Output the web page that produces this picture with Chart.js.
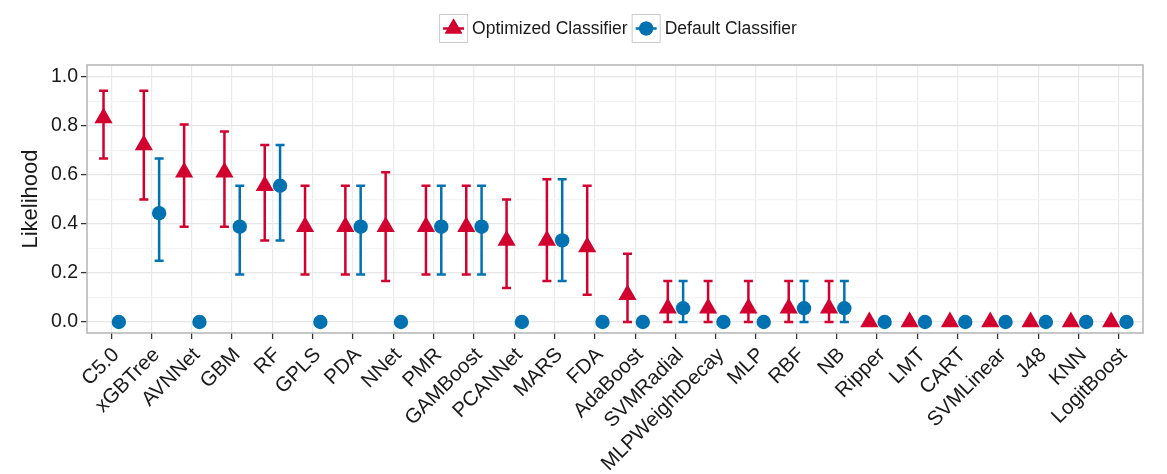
<!DOCTYPE html>
<html>
<head>
<meta charset="utf-8">
<script src="https://cdn.jsdelivr.net/npm/chart.js@4.4.0/dist/chart.umd.min.js"></script>
<style>
  html, body { margin: 0; padding: 0; background: #fff; }
  #wrap { width: 1167px; height: 474px; }
</style>
</head>
<body>
<div id="wrap"><canvas id="chart" width="1167" height="474"></canvas></div>
<script>
// data
const categories = ['C5.0', 'xGBTree', 'AVNNet', 'GBM', 'RF', 'GPLS', 'PDA', 'NNet', 'PMR',
  'GAMBoost', 'PCANNet', 'MARS', 'FDA', 'AdaBoost', 'SVMRadial', 'MLPWeightDecay', 'MLP',
  'RBF', 'NB', 'Ripper', 'LMT', 'CART', 'SVMLinear', 'J48', 'KNN', 'LogitBoost'];

const optimized     = [0.833, 0.722, 0.611, 0.611, 0.556, 0.389, 0.389, 0.389, 0.389, 0.389, 0.333, 0.333, 0.306,
  0.111, 0.056, 0.056, 0.056, 0.056, 0.056, 0, 0, 0, 0, 0, 0, 0];
const optimizedLow  = [0.667, 0.500, 0.389, 0.389, 0.333, 0.194, 0.194, 0.167, 0.194, 0.194, 0.139, 0.167, 0.111,
  0, 0, 0, 0, 0, 0, 0, 0, 0, 0, 0, 0, 0];
const optimizedHigh = [0.944, 0.944, 0.806, 0.778, 0.722, 0.556, 0.556, 0.611, 0.556, 0.556, 0.500, 0.583, 0.556,
  0.278, 0.167, 0.167, 0.167, 0.167, 0.167, 0, 0, 0, 0, 0, 0, 0];

const defaults      = [0, 0.444, 0, 0.389, 0.556, 0, 0.389, 0, 0.389, 0.389, 0, 0.333, 0,
  0, 0.056, 0, 0, 0.056, 0.056, 0, 0, 0, 0, 0, 0, 0];
const defaultLow    = [0, 0.250, 0, 0.194, 0.333, 0, 0.194, 0, 0.194, 0.194, 0, 0.167, 0,
  0, 0, 0, 0, 0, 0, 0, 0, 0, 0, 0, 0, 0];
const defaultHigh   = [0, 0.667, 0, 0.556, 0.722, 0, 0.556, 0, 0.556, 0.556, 0, 0.583, 0,
  0, 0.167, 0, 0, 0.167, 0.167, 0, 0, 0, 0, 0, 0, 0];

const yTicks = [0, 0.2, 0.4, 0.6, 0.8, 1.0];
const yMinorTicks = [0.1, 0.3, 0.5, 0.7, 0.9];

const RED = '#d1002f';
const BLUE = '#0072b2';
const DODGE = 0.19;
const CAP = 4.5;
const FONT = '"Liberation Sans", Arial, Helvetica, sans-serif';

// error bars go under the points
const errorBars = {
  id: 'errorBars',
  beforeDatasetsDraw(chart) {
    const { ctx, scales: { x, y } } = chart;
    ctx.save();
    ctx.lineWidth = 2.5;
    [[optimizedLow, optimizedHigh, -DODGE, RED], [defaultLow, defaultHigh, DODGE, BLUE]].forEach(([lo, hi, off, col]) => {
      ctx.strokeStyle = col;
      categories.forEach((c, i) => {
        if (lo[i] === hi[i]) return;
        const px = x.getPixelForValue(i + off);
        const y0 = y.getPixelForValue(lo[i]);
        const y1 = y.getPixelForValue(hi[i]);
        ctx.beginPath();
        ctx.moveTo(px, y0); ctx.lineTo(px, y1);
        ctx.moveTo(px - CAP, y0); ctx.lineTo(px + CAP, y0);
        ctx.moveTo(px - CAP, y1); ctx.lineTo(px + CAP, y1);
        ctx.stroke();
      });
    });
    ctx.restore();
  }
};

// panel border + legend on top
const frame = {
  id: 'frame',
  afterDraw(chart) {
    const { ctx, chartArea: a } = chart;
    ctx.save();
    ctx.strokeStyle = '#b8b8b8';
    ctx.lineWidth = 1.6;
    ctx.strokeRect(a.left, a.top, a.right - a.left, a.bottom - a.top);

    const items = [
      { label: 'Optimized Classifier', color: RED, style: 'triangle', r: 10 },
      { label: 'Default Classifier', color: BLUE, style: 'circle', r: 7 }
    ];
    const key = 29, gap = 4;
    ctx.font = '17.5px ' + FONT;
    const widths = items.map(it => ctx.measureText(it.label).width);
    const total = items.reduce((s, it, i) => s + key + gap + widths[i], 0) + gap;
    let x = 618 - total / 2;
    const top = 14;
    items.forEach((it, i) => {
      ctx.fillStyle = '#fff';
      ctx.fillRect(x, top, key, key);
      ctx.strokeStyle = '#cccccc';
      ctx.lineWidth = 1;
      ctx.strokeRect(x + 0.5, top + 0.5, key - 1, key - 1);
      ctx.strokeStyle = it.color;
      ctx.lineWidth = 2.5;
      ctx.beginPath();
      ctx.moveTo(x + 4, top + key / 2);
      ctx.lineTo(x + key - 4, top + key / 2);
      ctx.stroke();
      ctx.fillStyle = it.color;
      Chart.helpers.drawPoint(ctx, { pointStyle: it.style, radius: it.r, rotation: 0, borderWidth: 0 }, x + key / 2, top + key / 2);
      ctx.fill();
      ctx.fillStyle = '#1a1a1a';
      ctx.textBaseline = 'middle';
      ctx.textAlign = 'left';
      ctx.fillText(it.label, x + key + gap, top + key / 2 + 1);
      x += key + gap + widths[i] + gap;
    });
    ctx.restore();
  }
};

new Chart(document.getElementById('chart'), {
  type: 'scatter',
  data: {
    datasets: [
      {
        label: 'Optimized Classifier',
        data: categories.map((c, i) => ({ x: i - DODGE, y: optimized[i] })),
        pointStyle: 'triangle',
        pointRadius: 10.5,
        pointHoverRadius: 10.5,
        backgroundColor: RED,
        borderWidth: 0
      },
      {
        label: 'Default Classifier',
        data: categories.map((c, i) => ({ x: i + DODGE, y: defaults[i] })),
        pointStyle: 'circle',
        pointRadius: 7.2,
        pointHoverRadius: 7.2,
        backgroundColor: BLUE,
        borderWidth: 0
      }
    ]
  },
  options: {
    responsive: false,
    animation: false,
    devicePixelRatio: 1,
    layout: { padding: { top: 65, right: 24, left: 0, bottom: 0 } },
    plugins: {
      legend: { display: false },
      tooltip: { enabled: false }
    },
    scales: {
      x: {
        type: 'linear',
        min: -0.6,
        max: categories.length - 0.4,
        afterBuildTicks: (scale) => { scale.ticks = categories.map((c, i) => ({ value: i })); },
        afterFit: (scale) => { scale.height = 141; },
        border: { display: false },
        grid: { color: '#ebebeb', lineWidth: 1.2, tickLength: 6, tickColor: '#333', tickWidth: 1.3 },
        ticks: {
          autoSkip: false,
          minRotation: 45,
          maxRotation: 45,
          padding: 4,
          labelOffset: 5,
          color: '#1a1a1a',
          font: { family: FONT, size: 20.5 },
          callback: (v) => categories[v]
        }
      },
      y: {
        min: -0.045,
        max: 1.049,
        afterBuildTicks: (scale) => {
          scale.ticks = yTicks.concat(yMinorTicks).sort((a, b) => a - b).map(v => ({ value: v }));
        },
        afterFit: (scale) => { scale.width = 87; },
        border: { display: false },
        grid: {
          color: (c) => yTicks.includes(c.tick.value) ? '#e6e6e6' : '#f3f3f3',
          lineWidth: 1.2,
          tickLength: 6,
          tickColor: (c) => yTicks.includes(c.tick.value) ? '#333' : 'rgba(0,0,0,0)',
          tickWidth: 1.3
        },
        ticks: {
          autoSkip: false,
          padding: 3,
          color: '#1a1a1a',
          font: { family: FONT, size: 19.5 },
          callback: (v) => yTicks.includes(v) ? v.toFixed(1) : ''
        },
        title: {
          display: true,
          text: 'Likelihood',
          color: '#1a1a1a',
          font: { family: FONT, size: 22 },
          padding: { top: 18, bottom: 0 }
        }
      }
    }
  },
  plugins: [errorBars, frame]
});
</script>
</body>
</html>
